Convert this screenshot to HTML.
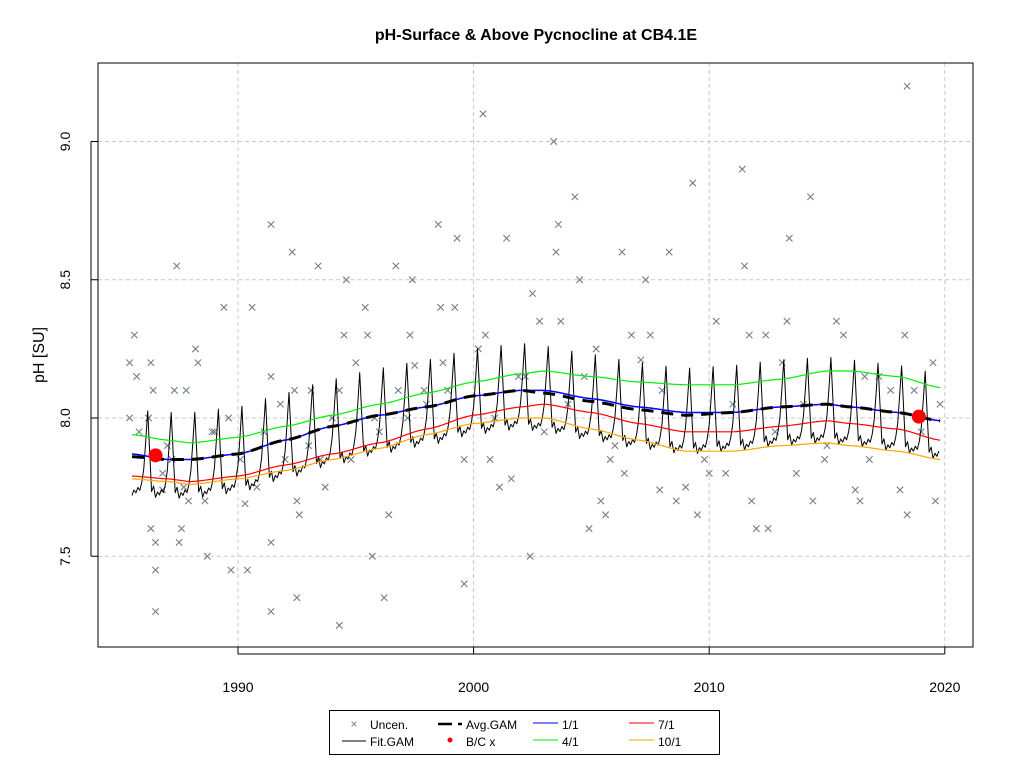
<!DOCTYPE html>
<html><head><meta charset="utf-8"><style>
body{margin:0;background:#fff;}
svg{display:block;font-family:"Liberation Sans",Arial,sans-serif;}
</style></head><body>
<svg id="chart" width="1024" height="768" viewBox="0 0 1024 768">
<text x="536" y="40" text-anchor="middle" font-size="16" font-weight="bold">pH-Surface &amp; Above Pycnocline at CB4.1E</text>
<text transform="translate(44,355) rotate(-90)" text-anchor="middle" font-size="16">pH [SU]</text>
<g id="grid"></g>
<g id="pts"></g>
<g id="lines"></g>
<g id="axes"></g>
<rect x="98" y="63" width="875" height="584" fill="none" stroke="#000"/>
<g>
<rect x="329.5" y="710.5" width="390" height="44" fill="#fff" stroke="#000"/>
<g><text x="354" y="728" font-size="12" fill="#708090" text-anchor="middle">×</text><text x="370" y="729" font-size="12">Uncen.</text></g>
<g><line x1="342" y1="741" x2="366" y2="741" stroke="#000"/><text x="370" y="746" font-size="12">Fit.GAM</text></g>
<g><line x1="438" y1="724" x2="452" y2="724" stroke="#000" stroke-width="2.5"/><line x1="458" y1="724" x2="462" y2="724" stroke="#000" stroke-width="2.5"/><text x="466" y="729" font-size="12">Avg.GAM</text></g>
<g><circle cx="450" cy="740" r="2.5" fill="red"/><text x="466" y="746" font-size="12">B/C x</text></g>
<g><line x1="533" y1="723" x2="558" y2="723" stroke="#0000ff"/><text x="562" y="729" font-size="12">1/1</text></g>
<g><line x1="533" y1="740" x2="558" y2="740" stroke="#00ee00"/><text x="562" y="746" font-size="12">4/1</text></g>
<g><line x1="629" y1="723" x2="654" y2="723" stroke="#ff0000"/><text x="658" y="729" font-size="12">7/1</text></g>
<g><line x1="629" y1="740" x2="654" y2="740" stroke="#ffa500"/><text x="658" y="746" font-size="12">10/1</text></g>
</g>
</svg>
<script>
const xTicks=[1990,2000,2010,2020];
const yTicks=[7.5,8.0,8.5,9.0];
const yTickLabels=["7.5","8.0","8.5","9.0"];
const ptYears=[1985.4,1985.6,1985.7,1985.4,1985.8,1986.2,1986.3,1986.3,1986.4,1986.5,1986.5,1986.5,1986.8,1986.8,1987.2,1987.3,1987.4,1987.5,1987.6,1987.7,1987.8,1987.9,1988.2,1988.3,1988.6,1988.7,1988.9,1989.4,1989.6,1989.7,1990.1,1990.3,1990.4,1990.6,1990.8,1991.1,1991.4,1991.4,1991.4,1991.4,1992.0,1992.3,1992.4,1992.5,1992.5,1992.6,1993.1,1993.4,1993.5,1993.7,1994.0,1994.3,1994.3,1994.5,1994.6,1994.8,1995.0,1995.4,1995.5,1995.7,1995.8,1996.2,1996.4,1996.7,1996.8,1997.2,1997.3,1997.4,1997.5,1997.9,1998.5,1998.6,1998.7,1998.9,1999.2,1999.3,1999.6,1999.6,2000.2,2000.4,2000.5,2000.7,2001.1,2001.4,2001.6,2002.2,2002.4,2002.5,2002.8,2003.4,2003.5,2003.6,2003.7,2004.3,2004.5,2004.7,2004.9,2005.2,2005.4,2005.6,2005.8,2006.3,2006.4,2006.7,2007.1,2007.3,2007.5,2007.9,2008.3,2008.6,2009.0,2009.3,2009.5,2010.0,2010.3,2010.7,2011.4,2011.5,2011.7,2011.8,2012.0,2012.4,2012.5,2013.1,2013.3,2013.4,2013.7,2014.3,2014.4,2014.9,2015.4,2015.7,2016.2,2016.4,2016.6,2016.8,2017.7,2018.1,2018.3,2018.4,2018.4,2018.7,2019.5,2019.6,2019.8,1987.0,1989.0,1991.8,1993.0,1996.0,1998.0,2000.9,2001.9,2003.0,2004.0,2006.0,2008.0,2009.8,2011.0,2012.8,2014.0,2015.0,2017.2,2019.0];
const ptValues=[8.20,8.30,8.15,8.00,7.95,8.00,7.60,8.20,8.10,7.55,7.45,7.30,7.74,7.80,7.85,8.10,8.55,7.55,7.60,7.75,8.10,7.70,8.25,8.20,7.70,7.50,7.95,8.40,8.00,7.45,7.85,7.69,7.45,8.40,7.75,7.95,7.30,8.15,8.70,7.55,7.85,8.60,8.10,7.35,7.70,7.65,8.10,8.55,7.85,7.75,8.00,8.10,7.25,8.30,8.50,7.85,8.20,8.40,8.30,7.50,8.00,7.35,7.65,8.55,8.10,8.00,8.30,8.50,8.19,8.10,8.70,8.40,8.20,8.10,8.40,8.65,7.40,7.85,8.25,9.10,8.30,7.85,7.75,8.65,7.78,8.15,7.50,8.45,8.35,9.00,8.60,8.70,8.35,8.80,8.50,8.15,7.60,8.25,7.70,7.65,7.85,8.60,7.80,8.30,8.21,8.50,8.30,7.74,8.60,7.70,7.75,8.85,7.65,7.80,8.35,7.80,8.90,8.55,8.30,7.70,7.60,8.30,7.60,8.20,8.35,8.65,7.80,8.80,7.70,7.85,8.35,8.30,7.74,7.70,8.15,7.85,8.10,7.74,8.30,9.20,7.65,8.10,8.20,7.70,8.05,7.90,7.95,8.05,7.90,7.95,8.05,8.00,8.15,7.95,8.05,7.90,8.10,7.85,8.05,7.95,8.05,7.90,8.15,7.95];
const curveYears=[1985.5,1987,1988,1990,1992,1994,1996,1998,2000,2002,2003,2005,2007,2009,2011,2013,2015,2016,2018,2019.8];
const avgGam=[7.86,7.85,7.85,7.87,7.92,7.97,8.01,8.04,8.08,8.10,8.09,8.06,8.03,8.01,8.02,8.04,8.05,8.04,8.02,7.99];
const jan1=[7.87,7.85,7.85,7.87,7.92,7.97,8.01,8.04,8.08,8.10,8.10,8.07,8.04,8.02,8.02,8.04,8.05,8.04,8.02,7.99];
const apr1=[7.94,7.92,7.91,7.93,7.97,8.01,8.05,8.09,8.13,8.16,8.17,8.15,8.13,8.12,8.12,8.14,8.17,8.17,8.15,8.11];
const jul1=[7.79,7.78,7.77,7.79,7.83,7.87,7.91,7.96,8.01,8.04,8.05,8.02,7.98,7.95,7.95,7.97,7.99,7.98,7.96,7.92];
const oct1=[7.78,7.77,7.76,7.78,7.81,7.85,7.89,7.94,7.98,8.00,8.00,7.96,7.92,7.88,7.88,7.90,7.91,7.90,7.88,7.85];
const seasonal=[-0.04,0.06,0.17,0.02,-0.12,-0.10,-0.14,-0.12,-0.13,-0.11,-0.12,-0.09];
const bcYears=[1986.5,2018.9];
const bcValues=[7.865,8.005];

const X0=98,X1=973,Y0=63,Y1=647;
const xs=y=>238+(y-1990)*23.56;
const ys=v=>418-(v-8.0)*276.5;
const NS="http://www.w3.org/2000/svg";
function mk(tag,attrs,parent){const e=document.createElementNS(NS,tag);for(const k in attrs)e.setAttribute(k,attrs[k]);parent.appendChild(e);return e;}
const grid=document.getElementById('grid'),axes=document.getElementById('axes'),pts=document.getElementById('pts'),lines=document.getElementById('lines');
xTicks.forEach((t,i)=>{
  const g=mk('line',{x1:xs(t),x2:xs(t),y1:Y0,y2:Y1,stroke:'#c8c8c8','stroke-dasharray':'4,3'},grid);
  
  
  const tk=mk('line',{x1:xs(t),x2:xs(t),y1:Y1,y2:Y1+7,stroke:'#000'},axes);
  
  
  const tx=mk('text',{x:xs(t),y:692,'text-anchor':'middle','font-size':'14'},axes);
  tx.textContent=String(t);
  
  
});
mk('line',{x1:xs(1990),x2:xs(2020),y1:Y1+7,y2:Y1+7,stroke:'#000'},axes);
yTicks.forEach((t,i)=>{
  const g=mk('line',{x1:X0,x2:X1,y1:ys(t),y2:ys(t),stroke:'#c8c8c8','stroke-dasharray':'4,3'},grid);
  
  
  const tk=mk('line',{x1:X0-7,x2:X0,y1:ys(t),y2:ys(t),stroke:'#000'},axes);
  
  
  const tx=mk('text',{transform:`translate(70,${ys(t)}) rotate(-90)`,'text-anchor':'middle','font-size':'14'},axes);
  tx.textContent=yTickLabels[i];
  
  
});
mk('line',{x1:X0-7,x2:X0-7,y1:ys(7.5),y2:ys(9.0),stroke:'#000'},axes);
ptYears.forEach((yr,i)=>{
  const cx=xs(yr),cy=ys(ptValues[i]),d=3.2;
  const p=mk('path',{d:`M${cx-d},${cy-d}L${cx+d},${cy+d}M${cx-d},${cy+d}L${cx+d},${cy-d}`,stroke:'#708090','stroke-width':1.1,fill:'none'},pts);
  
  
});
function interp(arr,t){
  if(t<=curveYears[0])return arr[0];
  for(let i=0;i<curveYears.length-1;i++){
    if(t<=curveYears[i+1]){
      const a=curveYears[i],b=curveYears[i+1],u=(t-a)/(b-a),s=(1-Math.cos(Math.PI*u))/2;
      const lin=arr[i]+(arr[i+1]-arr[i])*u, cs=arr[i]+(arr[i+1]-arr[i])*s;
      return 0.5*lin+0.5*cs;
    }
  }
  return arr[arr.length-1];
}
function curve(arr,attrs,name){
  let d='';
  for(let t=curveYears[0];t<=curveYears[curveYears.length-1]+1e-9;t+=0.05){
    d+=(d?'L':'M')+xs(t).toFixed(1)+','+ys(interp(arr,t)).toFixed(1);
  }
  const p=mk('path',Object.assign({d:d,fill:'none'},attrs),lines);
  
  
}
(function(){
  let d='';
  const y0=curveYears[0],y1=curveYears[curveYears.length-1];
  for(let k=Math.ceil(y0*12);k<=Math.floor(y1*12);k++){
    const t=k/12,m=((k%12)+12)%12;
    d+=(d?'L':'M')+xs(t).toFixed(1)+','+ys(interp(avgGam,t)+seasonal[m]).toFixed(1);
  }
  const p=mk('path',{d:d,fill:'none',stroke:'#000','stroke-width':1,'stroke-linejoin':'round'},lines);
  
  
})();
curve(apr1,{stroke:'#00ee00','stroke-width':1.2},'apr-1-line');
curve(jul1,{stroke:'#ff0000','stroke-width':1.2},'jul-1-line');
curve(oct1,{stroke:'#ffa500','stroke-width':1.2},'oct-1-line');
curve(jan1,{stroke:'#0000ff','stroke-width':1.5},'jan-1-line');
curve(avgGam,{stroke:'#000','stroke-width':3,'stroke-dasharray':'12,8'},'avg-gam-line');
bcYears.forEach((yr,i)=>{
  const c=mk('circle',{cx:xs(yr),cy:ys(bcValues[i]),r:7,fill:'#ff0000'},lines);
  
  
});
</script>
</body></html>
